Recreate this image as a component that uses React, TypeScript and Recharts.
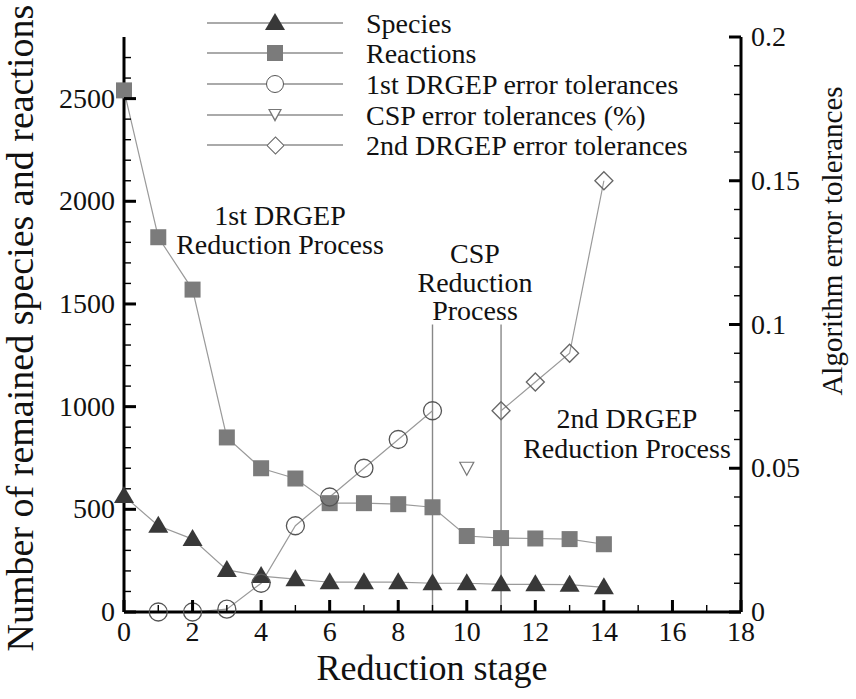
import React from 'react';
import { ComposedChart, Line, XAxis, YAxis, ReferenceLine } from 'recharts';

// reduction stages and remained counts
const stages = [0, 1, 2, 3, 4, 5, 6, 7, 8, 9, 10, 11, 12, 13, 14];
const species = [565, 420, 355, 205, 175, 160, 145, 145, 145, 140, 140, 135, 135, 133, 120];
const reactions = [2540, 1825, 1570, 850, 700, 650, 530, 530, 525, 510, 370, 360, 358, 355, 330];

// error tolerances (right axis)
const drgep1Stages = [1, 2, 3, 4, 5, 6, 7, 8, 9];
const drgep1Tol = [0, 0, 0.001, 0.01, 0.03, 0.04, 0.05, 0.06, 0.07];
const cspStages = [10];
const cspTol = [0.05];
const drgep2Stages = [11, 12, 13, 14];
const drgep2Tol = [0.07, 0.08, 0.09, 0.15];

// process boundaries
const boundaryStages = [9, 11];
const boundaryTop = 0.1;

// ticks
const xTicks = [0, 1, 2, 3, 4, 5, 6, 7, 8, 9, 10, 11, 12, 13, 14, 15, 16, 17, 18];
const xMajor = [0, 2, 4, 6, 8, 10, 12, 14, 16, 18];
const leftTicks = [0, 100, 200, 300, 400, 500, 600, 700, 800, 900, 1000, 1100, 1200, 1300, 1400,
  1500, 1600, 1700, 1800, 1900, 2000, 2100, 2200, 2300, 2400, 2500, 2600, 2700];
const leftMajor = [0, 500, 1000, 1500, 2000, 2500];
const rightTicks = [0, 0.01, 0.02, 0.03, 0.04, 0.05, 0.06, 0.07, 0.08, 0.09, 0.1,
  0.11, 0.12, 0.13, 0.14, 0.15, 0.16, 0.17, 0.18, 0.19, 0.2];
const rightMajor = [0, 0.05, 0.1, 0.15, 0.2];

const seriesNames = ['Species', 'Reactions', '1st DRGEP error tolerances', 'CSP error tolerances (%)', '2nd DRGEP error tolerances'];

const FONT = 'Liberation Serif, serif';
const LINE = '#9a9a9a';
const MINOR = 7;

const countData = stages.map((s, i) => ({ stage: s, species: species[i], reactions: reactions[i] }));
const drgep1Data = drgep1Stages.map((s, i) => ({ stage: s, tol: drgep1Tol[i] }));
const cspData = cspStages.map((s, i) => ({ stage: s, tol: cspTol[i] }));
const drgep2Data = drgep2Stages.map((s, i) => ({ stage: s, tol: drgep2Tol[i] }));

const isMajor = (list: number[], v: number) => list.some(m => Math.abs(m - v) < 1e-9);

const Marker = ({ kind, cx, cy }: any) => {
  if (cx == null || cy == null) return <g />;
  switch (kind) {
    case 'triangle':
      return <polygon points={`${cx},${cy - 10} ${cx + 10},${cy + 7} ${cx - 10},${cy + 7}`} fill="#383838" />;
    case 'square':
      return <rect x={cx - 8} y={cy - 8} width={16} height={16} fill="#7b7b7b" />;
    case 'circle':
      return <circle cx={cx} cy={cy} r={9} fill="none" stroke="#555" strokeWidth={1.3} />;
    case 'triangleDown':
      return <polygon points={`${cx - 7},${cy - 6} ${cx + 7},${cy - 6} ${cx},${cy + 7}`} fill="none" stroke="#777" strokeWidth={1.2} />;
    default:
      return <polygon points={`${cx},${cy - 9} ${cx + 9},${cy} ${cx},${cy + 9} ${cx - 9},${cy}`} fill="none" stroke="#666" strokeWidth={1.3} />;
  }
};

const dotOf = (kind: string) => (p: any) => <Marker key={`${kind}-${p.index}`} kind={kind} cx={p.cx} cy={p.cy} />;

// native tick lines give the short (minor) marks; majors get a longer, heavier mark here
const leftTick = (props: any) => {
  const x = Number(props.x);
  const y = Number(props.y);
  const major = isMajor(leftMajor, props.payload.value);
  return (
    <g>
      {major && <rect x={x} y={y - 1.5} width={12} height={3} fill="#000" />}
      {major && <text x={x - 9} y={y + 9} textAnchor="end" fontFamily={FONT} fontSize={28} fill="#111">{props.payload.value}</text>}
    </g>
  );
};

const rightTick = (props: any) => {
  const x = Number(props.x);
  const y = Number(props.y);
  const major = isMajor(rightMajor, props.payload.value);
  return (
    <g>
      {major && <rect x={x - 12} y={y - 1.5} width={12} height={3} fill="#000" />}
      {major && <text x={x + 10} y={y + 9} fontFamily={FONT} fontSize={28} fill="#111">{String(props.payload.value)}</text>}
    </g>
  );
};

const bottomTick = (props: any) => {
  const x = Number(props.x);
  const y = Number(props.y);
  const major = isMajor(xMajor, props.payload.value);
  return (
    <g>
      {major && <rect x={x - 1.5} y={y - 12} width={3} height={12} fill="#000" />}
      {major && <text x={x} y={y + 29} textAnchor="middle" fontFamily={FONT} fontSize={28} fill="#111">{props.payload.value}</text>}
    </g>
  );
};

// html text placed by baseline (line-height 1, Liberation Serif)
const Txt = ({ x, base, size = 28, center = false, children }: any) => (
  <div style={{
    position: 'absolute', left: x, top: base - 0.8375 * size, fontFamily: FONT, fontSize: size,
    lineHeight: 1, whiteSpace: 'nowrap', color: '#111', transform: center ? 'translateX(-50%)' : undefined,
  }}>{children}</div>
);

const VTxt = ({ cx, cy, size, children }: any) => (
  <div style={{
    position: 'absolute', left: cx, top: cy, fontFamily: FONT, fontSize: size, lineHeight: 1,
    whiteSpace: 'nowrap', color: '#111', transform: 'translate(-50%, -50%) rotate(-90deg)',
  }}>{children}</div>
);

const legendRows = [23, 53, 84, 115, 145];
const MX = 275;

const LegendMarker = ({ i, y }: any) => {
  const abs: any = { position: 'absolute', boxSizing: 'border-box' };
  if (i === 0) return <div style={{ ...abs, left: MX - 10, top: y - 10, width: 0, height: 0, borderLeft: '10px solid transparent', borderRight: '10px solid transparent', borderBottom: '17px solid #383838' }} />;
  if (i === 1) return <div style={{ ...abs, left: MX - 8, top: y - 8, width: 16, height: 16, background: '#7b7b7b' }} />;
  if (i === 2) return <div style={{ ...abs, left: MX - 9, top: y - 9, width: 18, height: 18, borderRadius: '50%', border: '1.3px solid #555', background: '#fff' }} />;
  if (i === 3) return (
    <>
      <div style={{ ...abs, left: MX - 7, top: y - 6, width: 0, height: 0, borderLeft: '7px solid transparent', borderRight: '7px solid transparent', borderTop: '13px solid #777' }} />
      <div style={{ ...abs, left: MX - 5.2, top: y - 4.9, width: 0, height: 0, borderLeft: '5.2px solid transparent', borderRight: '5.2px solid transparent', borderTop: '9.6px solid #fff' }} />
    </>
  );
  return <div style={{ ...abs, left: MX - 6.5, top: y - 6.5, width: 13, height: 13, border: '1.3px solid #666', background: '#fff', transform: 'rotate(45deg)' }} />;
};

const Overlay = () => (
  <div style={{ position: 'absolute', left: 0, top: 0, width: 856, height: 699, pointerEvents: 'none' }}>
    {seriesNames.map((name, i) => (
      <React.Fragment key={name}>
        <div style={{ position: 'absolute', left: 207, top: legendRows[i] - 0.65, width: 136, height: 1.3, background: '#aaa' }} />
        <LegendMarker i={i} y={legendRows[i]} />
        <Txt x={366} base={legendRows[i] + 10}>{name}</Txt>
      </React.Fragment>
    ))}
    <Txt x={280} base={225} center>1st DRGEP</Txt>
    <Txt x={280} base={254} center>Reduction Process</Txt>
    <Txt x={475} base={263} center>CSP</Txt>
    <Txt x={475} base={292} center>Reduction</Txt>
    <Txt x={475} base={320} center>Process</Txt>
    <Txt x={627} base={428} center>2nd DRGEP</Txt>
    <Txt x={627} base={458} center>Reduction Process</Txt>
    <Txt x={432} base={680} size={36} center>Reduction stage</Txt>
    <VTxt cx={20} cy={328} size={38}>Number of remained species and reactions</VTxt>
    <VTxt cx={832} cy={241} size={29}>Algorithm error tolerances</VTxt>
  </div>
);

export default function App() {
  return (
    <div style={{ position: 'absolute', left: 0, top: 0, width: 856, height: 699, background: '#fff' }}>
      <ComposedChart width={856} height={699} data={countData} margin={{ top: 37, right: 0, bottom: 0, left: 0 }}>
        <XAxis
          type="number"
          dataKey="stage"
          domain={[0, 18]}
          ticks={xTicks}
          interval={0}
          height={87}
          tickSize={-MINOR}
          tickMargin={MINOR}
          tickLine={{ stroke: '#000', strokeWidth: 1.4 }}
          axisLine={{ stroke: '#000', strokeWidth: 3 }}
          tick={bottomTick}
        />
        <YAxis
          yAxisId="left"
          domain={[0, 2800]}
          ticks={leftTicks}
          interval={0}
          width={124}
          tickSize={-MINOR}
          tickMargin={MINOR}
          tickLine={{ stroke: '#000', strokeWidth: 1.4 }}
          axisLine={{ stroke: '#000', strokeWidth: 3 }}
          tick={leftTick}
        />
        <YAxis
          yAxisId="right"
          orientation="right"
          domain={[0, 0.2]}
          ticks={rightTicks}
          interval={0}
          width={115}
          tickSize={-MINOR}
          tickMargin={MINOR}
          tickLine={{ stroke: '#000', strokeWidth: 1.4 }}
          axisLine={{ stroke: '#000', strokeWidth: 3 }}
          tick={rightTick}
        />
        {boundaryStages.map(s => (
          <ReferenceLine
            key={s}
            yAxisId="right"
            segment={[{ x: s, y: 0 }, { x: s, y: boundaryTop }]}
            stroke="#888"
            strokeWidth={1.4}
          />
        ))}
        <Line yAxisId="left" dataKey="reactions" stroke={LINE} strokeWidth={1.2} dot={dotOf('square')} isAnimationActive={false} />
        <Line yAxisId="left" dataKey="species" stroke={LINE} strokeWidth={1.2} dot={dotOf('triangle')} isAnimationActive={false} />
        <Line yAxisId="right" data={drgep1Data} dataKey="tol" stroke={LINE} strokeWidth={1.2} dot={dotOf('circle')} isAnimationActive={false} />
        <Line yAxisId="right" data={cspData} dataKey="tol" stroke={LINE} strokeWidth={1.2} dot={dotOf('triangleDown')} isAnimationActive={false} />
        <Line yAxisId="right" data={drgep2Data} dataKey="tol" stroke={LINE} strokeWidth={1.2} dot={dotOf('diamond')} isAnimationActive={false} />
      </ComposedChart>
      <Overlay />
    </div>
  );
}
